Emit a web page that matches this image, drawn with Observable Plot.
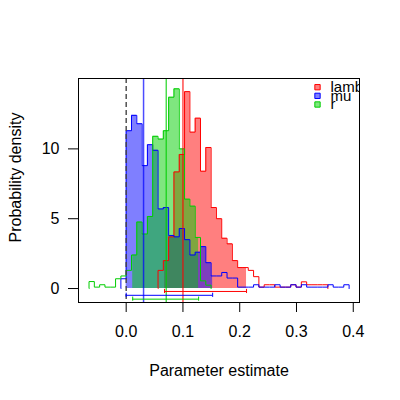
<!DOCTYPE html>
<html><head><meta charset="utf-8">
<script src="https://cdn.jsdelivr.net/npm/d3@7"></script>
<script src="https://cdn.jsdelivr.net/npm/@observablehq/plot@0.6"></script>
<style>body{margin:0;background:#fff}svg{font-family:"Liberation Sans",Arial,sans-serif}</style>
</head><body><div id="chart"></div>
<script>
// ---- data ----
const binWidth = 0.00935;
const seriesNames = ["lambda", "mu", "r"];
const firstBin = [6, -1, -7];
const lambdaDensity = [1.3, 2.0, 3.7, 8.35, 9.6, 14.1, 11.2, 12.2, 8.4, 10.1, 5.8, 5.0, 3.6, 3.2, 2.0, 1.5, 1.5, 1.3, 0.85,
  0.1, 0.27, 0.27, 0.1, 0.1, 0.1, 0.27, 0.1, 0.48, 0.27, 0.27, 0.27, 0.27];
const muDensity = [0.7, 11.3, 12.4, 11.8, 8.8, 10.3, 9.9, 5.7, 5.8, 3.8, 3.7, 4.3, 3.5, 2.4, 2.6, 3.0, 1.85, 0.9, 0.9, 1.15, 0.75, 0.75,
  0.1, 0.1, 0.1, 0.27, 0.1, 0.1, 0.1, 0.27, 0.1, 0.1, 0.27, 0.1, 0.27, 0.1, 0.1, 0.1, 0.1, 0.27, 0.1, 0.1, 0.27];
const rDensity = [0.5, 0.1, 0.27, 0.1, 0.1, 0.7, 0.9, 1.3, 2.4, 4.76, 3.9, 5.16, 10.9, 10.7, 11.3, 13.7, 14.3, 10.0, 6.4, 5.9, 3.66, 0.55, 0.24];
const means = [0.1, 0.0306, 0.0706];
const hpdLow = [0.0676, 0.0, 0.0115];
const hpdHigh = [0.212, 0.1523, 0.1276];
const xTicks = [0, 0.1, 0.2, 0.3, 0.4];
const yTicks = [0, 5, 10];

// ---- styles ----
const colors = ["#ff0000", "#0000ff", "#00cd00"];
const densities = [lambdaDensity, muDensity, rDensity];

function outline(s) {
  const d = densities[s], f = firstBin[s];
  const pts = [{x: f * binWidth, y: 0}];
  d.forEach((v, i) => pts.push({x: (f + i) * binWidth, y: v}));
  pts.push({x: (f + d.length) * binWidth, y: 0});
  return pts;
}
function fillPts(s) {
  const d = densities[s], f = firstBin[s], lo = hpdLow[s], hi = hpdHigh[s];
  const pts = [];
  let last = 0;
  d.forEach((v, i) => {
    const a = (f + i) * binWidth, b = a + binWidth;
    if (b > lo + 1e-9 && a < hi) { pts.push({x: Math.max(a, lo), y: v}); last = v; }
  });
  pts.push({x: hi, y: last});
  return pts;
}

const marks = [];
[0, 1, 2].forEach(s => marks.push(Plot.areaY(fillPts(s), {x: "x", y: "y", curve: "step-after", fill: colors[s], fillOpacity: 0.5})));
[0, 1, 2].forEach(s => marks.push(Plot.line(outline(s), {x: "x", y: "y", curve: "step-after", stroke: colors[s], strokeWidth: 1})));
marks.push(Plot.ruleX([0], {stroke: "#444", strokeWidth: 1.4, strokeDasharray: "5,3"}));
[0, 1, 2].forEach(s => marks.push(Plot.ruleX([means[s]], {stroke: colors[s], strokeWidth: 1.5, strokeOpacity: 0.7})));
// interval bars
[0, 1, 2].forEach(s => {
  const row = -0.21 - 0.275 * s;
  marks.push(Plot.ruleY([row], {x1: hpdLow[s], x2: hpdHigh[s], stroke: colors[s], strokeWidth: 1}));
  marks.push(Plot.ruleX([hpdLow[s], hpdHigh[s]], {x: d => d, y1: row - 0.15, y2: row + 0.15, stroke: colors[s], strokeWidth: 1}));
});
marks.push(Plot.frame({stroke: "#000", strokeWidth: 1}));
marks.push(Plot.axisX({ticks: xTicks, tickSize: 10, tickPadding: 13, tickFormat: d3.format(".1f"), fontSize: 16, label: null}));
marks.push(Plot.axisY({ticks: yTicks, tickSize: 10, tickPadding: 9, fontSize: 16, label: null}));
marks.push(Plot.text(["Probability density"], {text: d => d, frameAnchor: "left", textAnchor: "middle", rotate: -90, dx: -63, dy: -13, fontSize: 16, fill: "#000"}));
marks.push(Plot.text(["Parameter estimate"], {text: d => d, frameAnchor: "bottom", dy: 68, lineAnchor: "middle", fontSize: 16, fill: "#000"}));
// legend
seriesNames.forEach((name, i) => {
  const dy = 8.7 + 8.65 * i;
  marks.push(Plot.dot([name], {frameAnchor: "top-right", dx: -42, dy, symbol: "square", r: 3, fill: colors[i], fillOpacity: 0.5, stroke: colors[i], strokeWidth: 1}));
  marks.push(Plot.text([name], {text: d => d, frameAnchor: "top-right", dx: -29, dy, textAnchor: "start", lineAnchor: "middle", fontSize: 15, fill: "#000", clip: true}));
});

const chart = Plot.plot({
  width: 400, height: 400,
  marginLeft: 78, marginRight: 41, marginTop: 78, marginBottom: 98,
  style: {fontFamily: "Liberation Sans, Arial, sans-serif", fontSize: "16px", color: "#000", background: "#fff"},
  x: {domain: [-0.084, 0.411]},
  y: {domain: [-1.0, 15.04]},
  marks
});
document.getElementById("chart").appendChild(chart);
</script>
</body></html>
